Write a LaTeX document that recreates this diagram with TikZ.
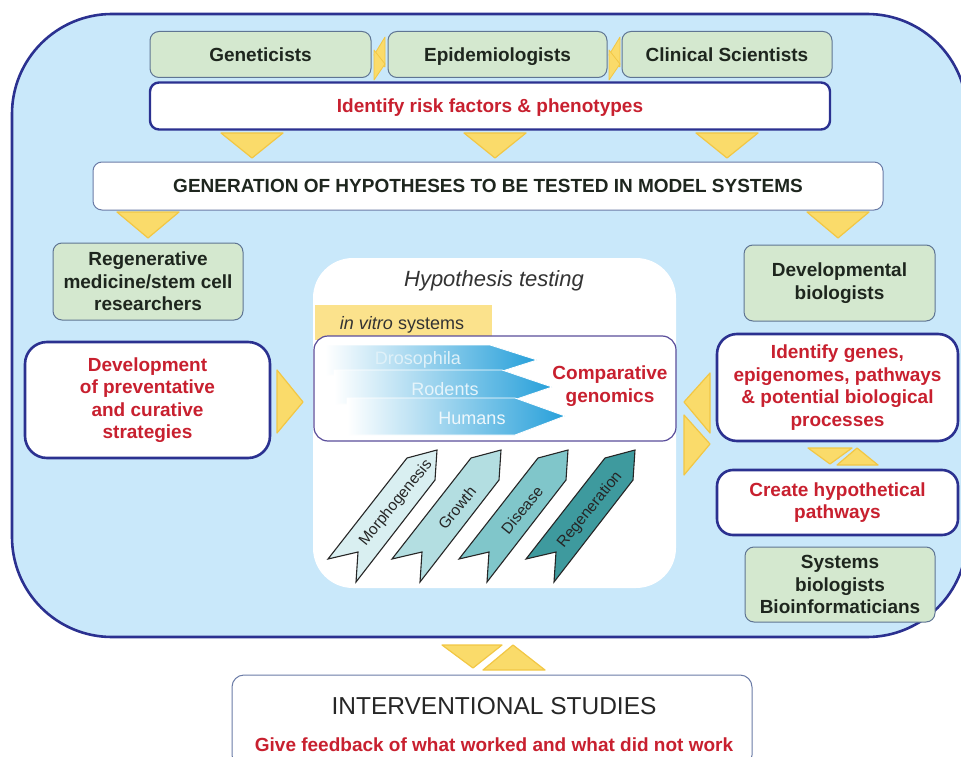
\documentclass[tikz,border=0pt]{standalone}
\usepackage{fontspec}
\setmainfont{Liberation Sans}
\definecolor{framefill}{HTML}{C9E8FA}
\definecolor{navy}{HTML}{2B3190}
\definecolor{greenfill}{HTML}{D4E8CF}
\definecolor{greenborder}{HTML}{5F7593}
\definecolor{darktext}{HTML}{1E261E}
\definecolor{redtext}{HTML}{C8202F}
\definecolor{thinborder}{HTML}{6A7BA6}
\definecolor{compborder}{HTML}{5A4E9B}
\definecolor{yelfill}{HTML}{FADB6A}
\definecolor{yeldraw}{HTML}{F2C744}
\definecolor{bandfill}{HTML}{FBE28C}
\definecolor{arrowblue}{HTML}{27A0DA}
\definecolor{cmorph}{HTML}{D9EFF1}
\definecolor{cgrowth}{HTML}{B3DEE1}
\definecolor{cdisease}{HTML}{80C6CA}
\definecolor{cregen}{HTML}{3E9A9E}
\begin{document}
\begin{tikzpicture}[x=1pt,y=-1pt,
  bfont/.style={font=\bfseries\fontsize{19}{22.5}\selectfont},
  oneline/.style={text height=13.6pt, text depth=0pt},
  greenbox/.style={draw=greenborder, fill=greenfill, line width=1pt, rounded corners=9pt,
    bfont, text=darktext, align=center, inner sep=0pt},
  navybox/.style={draw=navy, fill=white, line width=2.6pt, rounded corners=16pt,
    bfont, text=redtext, align=center, inner sep=0pt},
  tri/.style={fill=yelfill, draw=yeldraw, line width=1.2pt, line join=round},
  chev/.style={draw=black!85, line width=1.1pt, line join=miter},
  chevtext/.style={font=\fontsize{15.5}{18}\selectfont, text=black!85, rotate=51, inner sep=0pt},
  blarrow/.style={left color=white, right color=arrowblue, draw=white, line width=0.8pt},
  arrtext/.style={font=\fontsize{18}{20}\selectfont}
]
\useasboundingbox (0,0) rectangle (961,757);
\begin{scope}
\clip (0,0) rectangle (961,757);
% outer frame
\draw[fill=framefill, draw=navy, line width=2.6pt, rounded corners=100pt] (12,14) rectangle (967,637);

% top row of scientists
\node[greenbox, oneline, minimum width=221pt, minimum height=46pt] (gen) at (260.5,54.5) {Geneticists};
\node[greenbox, oneline, minimum width=219pt, minimum height=46pt] (epi) at (497.5,54.5) {Epidemiologists};
\node[greenbox, oneline, minimum width=210pt, minimum height=46pt] (cli) at (727,54.5) {Clinical Scientists};
% slivers between them
\draw[tri, line width=0.8pt] (385,37) -- (385,67) -- (374,55) -- cycle;
\draw[tri, line width=0.8pt] (374,50) -- (374,80) -- (385,64) -- cycle;
\draw[tri, line width=0.8pt] (620,37) -- (620,67) -- (609,55) -- cycle;
\draw[tri, line width=0.8pt] (609,50) -- (609,80) -- (620,64) -- cycle;

\node[navybox, oneline, rounded corners=9pt, line width=2.4pt, minimum width=680pt, minimum height=47pt] (risk) at (490,106) {Identify risk factors \& phenotypes};

% triangles down to hypotheses
\draw[tri] (221,133) -- (283,133) -- (252,158) -- cycle;
\draw[tri] (464,133) -- (526,133) -- (495,158) -- cycle;
\draw[tri] (696,133) -- (758,133) -- (727,158) -- cycle;

\node[draw=thinborder, fill=white, line width=1pt, rounded corners=9pt, bfont, oneline, text=darktext,
  minimum width=790pt, minimum height=48pt, inner sep=0pt] (hyp) at (488,186)
  {GENERATION OF HYPOTHESES TO BE TESTED IN MODEL SYSTEMS};

\draw[tri] (117,212) -- (179,212) -- (148,238) -- cycle;
\draw[tri] (807,212) -- (869,212) -- (838,238) -- cycle;

% side groups
\node[greenbox, minimum width=190pt, minimum height=77pt] (regen) at (148,281.5)
  {Regenerative\\medicine/stem cell\\researchers};
\node[greenbox, minimum width=191pt, minimum height=76pt] (devbio) at (839.5,283)
  {Developmental\\biologists};

\node[navybox, rounded corners=22pt, minimum width=245pt, minimum height=116pt] (devprev) at (147.5,400)
  {Development\\of preventative\\and curative\\strategies};
\node[navybox, rounded corners=20pt, minimum width=241pt, minimum height=107pt] (idgenes) at (837.5,387.5)
  {Identify genes,\\epigenomes, pathways\\\& potential biological\\processes};
\node[navybox, rounded corners=16pt, minimum width=241pt, minimum height=65pt] (create) at (837.5,502.5)
  {Create hypothetical\\pathways};
\node[greenbox, minimum width=190pt, minimum height=75pt] (sysbio) at (840,584.5)
  {Systems\\biologists\\Bioinformaticians};

% arrows around the central panel
\draw[tri] (277,370) -- (277,433) -- (303,402) -- cycle;
\draw[tri] (710,373) -- (710,433) -- (684,402) -- cycle;
\draw[tri] (684,415) -- (684,475) -- (710,444) -- cycle;
\draw[tri] (808,448) -- (852,448) -- (830,464) -- cycle;
\draw[tri] (837,465) -- (878,465) -- (857,448) -- cycle;

% central panel
\node[fill=white, rounded corners=40pt, minimum width=363pt, minimum height=330pt, inner sep=0pt] (panel) at (494.5,423) {};
\node[font=\itshape\fontsize{22}{24}\selectfont, text=black!80] (httitle) at (494,281) {Hypothesis testing};
\fill[bandfill] (315,305) rectangle (492,340);
\node[arrtext, text=black!80] (invitro) at (402,325) {\textit{in vitro} systems};
\node[draw=compborder, fill=white, line width=1.2pt, rounded corners=14pt,
  minimum width=362pt, minimum height=105pt, inner sep=0pt] (comp) at (495,388.5) {};

\shade[blarrow] (325,345) -- (490,345) -- (537,360) -- (490,375) -- (325,375) -- cycle;
\shade[blarrow] (334,370) -- (502,370) -- (552,387) -- (502,404) -- (334,404) -- cycle;
\shade[blarrow] (347,398) -- (515,398) -- (565,416) -- (515,435) -- (347,435) -- cycle;
\node[arrtext, text=white!85!arrowblue] (dros) at (418,360) {Drosophila};
\node[arrtext, text=white!88!arrowblue] (rod) at (445,389) {Rodents};
\node[arrtext, text=white!92!arrowblue] (hum) at (472,418) {Humans};
\node[bfont, text=redtext, align=center] (cg) at (610,386) {Comparative\\genomics};

% chevrons
\foreach \dx/\col in {0/cmorph, 64/cgrowth, 131/cdisease, 198/cregen}{
  \draw[chev, fill=\col] (407+\dx,458) -- (437+\dx,450) -- (435+\dx,480) -- (356+\dx,582)
     -- (358+\dx,552) -- (328+\dx,559) -- cycle;
}
\node[chevtext] (tmorph) at (396,503) {Morphogenesis};
\node[chevtext] (tgrowth) at (457,508) {Growth};
\node[chevtext] (tdis) at (522,510) {Disease};
\node[chevtext] (treg) at (590,510) {Regeneration};

% feedback
\draw[tri] (442,645) -- (502,645) -- (473,668) -- cycle;
\draw[tri] (483,670) -- (545,670) -- (513,645) -- cycle;
\node[draw=thinborder, fill=white, line width=1pt, rounded corners=12pt,
  minimum width=520pt, minimum height=92pt, inner sep=0pt] (interv) at (492,721) {};
\node[font=\fontsize{24.5}{26}\selectfont, text=black!85] (ivtitle) at (494,706) {INTERVENTIONAL STUDIES};
\node[bfont, text=redtext] (fb) at (494,745) {Give feedback of what worked and what did not work};
\end{scope}
\end{tikzpicture}
\end{document}
